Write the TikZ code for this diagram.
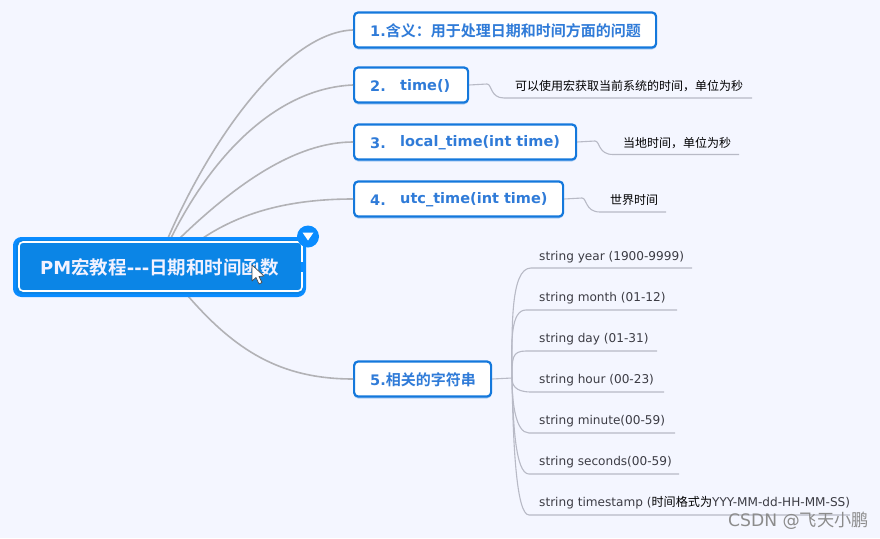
\documentclass[tikz,border=0pt]{standalone}
\usepackage{fontspec}
\setmainfont{DejaVu Sans}
\newfontfamily\cjk{Noto Sans CJK SC}
\newfontfamily\cjkb{Noto Sans CJK SC Bold}
\newfontfamily\latb{DejaVu Sans Bold}
\newfontfamily\lat{DejaVu Sans}
\usetikzlibrary{shadows,calc}
\definecolor{bgc}{HTML}{F4F6FF}
\definecolor{rootblue}{HTML}{0B85E6}
\definecolor{rootring}{HTML}{0A8CFF}
\definecolor{edgeblue}{HTML}{1478DC}
\definecolor{txtblue}{HTML}{2F7BD8}
\definecolor{brc}{HTML}{B2B2B6}
\definecolor{leafc}{HTML}{B8BAC6}
\definecolor{txtgrey}{HTML}{3C3C44}
\tikzset{
  topic/.style={draw=edgeblue,line width=2.2pt,fill=white,rounded corners=4pt,
    anchor=west,inner sep=0pt,minimum height=35pt,align=left,
    drop shadow={shadow xshift=0pt,shadow yshift=-2pt,opacity=.3,fill=edgeblue}},
  topiclabel/.style={anchor=west,inner sep=0,text=txtblue,font=\latb\fontsize{14.5}{16}\selectfont},
  mainline/.style={draw=brc,line width=1.6pt},
  subline/.style={draw=leafc,line width=1.1pt},
  leaf/.style={anchor=west,inner sep=0pt,text=black,font=\cjk\fontsize{12}{14}\selectfont},
  strleaf/.style={anchor=west,inner sep=0pt,text=txtgrey,font=\lat\fontsize{12.1}{14}\selectfont},
}
\begin{document}
\begin{tikzpicture}[x=1pt,y=-1pt]
\useasboundingbox (0,0) rectangle (880,538);
\fill[bgc] (0,0) rectangle (880,538);

% root anchors
\coordinate (r1) at (168,238);
\coordinate (r2) at (171,238);
\coordinate (r3) at (180,238);
\coordinate (r4) at (203,238);
\coordinate (r5) at (188,296);

% topic nodes
\node[topic,minimum width=302pt] (t1) at (353,30) {};
\node[topic,minimum width=114pt] (t2) at (353,85) {};
\node[topic,minimum width=222pt] (t3) at (353,142) {};
\node[topic,minimum width=209pt] (t4) at (353,199) {};
\node[topic,minimum width=137pt] (t5) at (353,379) {};
\node[topiclabel] (l1) at (370,30.5) {1.{\cjkb\fontsize{15}{16}\selectfont 含义：用于处理日期和时间方面的问题}};
\node[topiclabel] (l2n) at (370,86) {2.};
\node[topiclabel] (l2) at (400,86) {time()};
\node[topiclabel] (l3n) at (370,143) {3.};
\node[topiclabel] (l3) at (400,143) {local\_time(int time)};
\node[topiclabel] (l4n) at (370,200) {4.};
\node[topiclabel] (l4) at (400,200) {utc\_time(int time)};
\node[topiclabel] (l5) at (370,380) {5.{\cjkb\fontsize{15}{16}\selectfont 相关的字符串}};

% main branches
\draw[mainline] (r1) .. controls (215,130) and (290,32) .. (t1.west);
\draw[mainline] (r2) .. controls (215,150) and (280,88) .. (t2.west);
\draw[mainline] (r3) .. controls (235,185) and (295,142) .. (t3.west);
\draw[mainline] (r4) .. controls (245,210) and (295,199) .. (t4.west);
\draw[mainline] (r5) .. controls (235,350) and (280,379) .. (t5.west);

% root
\node[draw=rootring,line width=3pt,fill=rootblue,rounded corners=7pt,minimum width=290pt,minimum height=57pt,inner sep=0,anchor=center] (root) at (159.5,267) {};
\node[draw=white,line width=1.6pt,rounded corners=4pt,minimum width=283pt,minimum height=49pt,inner sep=0,anchor=center] (rootin) at (160.5,266.5) {};
\node[inner sep=0,anchor=center,text=white!95!blue,font=\latb\fontsize{18}{20}\selectfont] (rootl) at (159.5,267) {PM{\cjkb\fontsize{18.5}{20}\selectfont 宏教程}---{\cjkb\fontsize{18.5}{20}\selectfont 日期和时间函数}};
\node[circle,fill=rootring,minimum size=22pt,inner sep=0] (btn) at (308,236.5) {};
\fill[white] (302.5,232.5) -- (313.5,232.5) -- (308,240.5) -- cycle;
\fill[rootring] (300.5,262) rectangle (305,272);
% cursor
\draw[black!70,fill=white,line width=.7pt,line join=round] (252,265) -- (252,281) -- (256,277.5) -- (259,284) -- (262,282.5) -- (259,276.5) -- (264,276) -- cycle;

% leaf connectors
\coordinate (a2) at (487,84); \coordinate (u2a) at (504,98); \coordinate (u2b) at (752,98);
\coordinate (a3) at (595,141); \coordinate (u3a) at (613,154.5); \coordinate (u3b) at (739,154.5);
\coordinate (a4) at (582,198); \coordinate (u4a) at (600,212); \coordinate (u4b) at (666,212);
\draw[subline] (t2.east) -- (a2) .. controls (492,84) and (490,98) .. (u2a) -- (u2b);
\draw[subline] (t3.east) -- (a3) .. controls (600,141) and (598,154.5) .. (u3a) -- (u3b);
\draw[subline] (t4.east) -- (a4) .. controls (587,198) and (585,212) .. (u4a) -- (u4b);
\node[leaf] (n2) at (515,86) {可以使用宏获取当前系统的时间，单位为秒};
\node[leaf] (n3) at (623,143) {当地时间，单位为秒};
\node[leaf] (n4) at (610,200) {世界时间};

% string branches
\coordinate (hub) at (512,378);
\coordinate (s1a) at (531,268); \coordinate (s1b) at (692,268);
\coordinate (s2a) at (526,310); \coordinate (s2b) at (677,310);
\coordinate (s3a) at (526,351); \coordinate (s3b) at (657,351);
\coordinate (s4a) at (531,392); \coordinate (s4b) at (664,392);
\coordinate (s5a) at (529,433); \coordinate (s5b) at (675,433);
\coordinate (s6a) at (529,474); \coordinate (s6b) at (679,474);
\coordinate (s7a) at (529,515); \coordinate (s7b) at (850,515);
\draw[subline] (t5.east) -- (hub);
\draw[subline] (hub) .. controls (512,330) and (510,268) .. (s1a) -- (s1b);
\draw[subline] (hub) .. controls (511,340) and (511,310) .. (s2a) -- (s2b);
\draw[subline] (hub) .. controls (512,358) and (512,351) .. (s3a) -- (s3b);
\draw[subline] (hub) .. controls (512,384) and (514,392) .. (s4a) -- (s4b);
\draw[subline] (hub) .. controls (512,400) and (515,433) .. (s5a) -- (s5b);
\draw[subline] (hub) .. controls (513,420) and (515,474) .. (s6a) -- (s6b);
\draw[subline] (hub) .. controls (513,440) and (516,515) .. (s7a) -- (s7b);
\node[strleaf] (p1) at (539,257) {string year (1900-9999)};
\node[strleaf] (p2) at (539,298) {string month (01-12)};
\node[strleaf] (p3) at (539,339) {string day (01-31)};
\node[strleaf] (p4) at (539,380) {string hour (00-23)};
\node[strleaf] (p5) at (539,421) {string minute(00-59)};
\node[strleaf] (p6) at (539,462) {string seconds(00-59)};
\node[strleaf] (p7) at (539,503) {string timestamp ({\cjk\color{black}时间格式为}YYY-MM-dd-HH-MM-SS)};

% watermark
\node[anchor=west,inner sep=0,text=black!45,font=\lat\fontsize{17.2}{18}\selectfont] (wm) at (728,520.5) {CSDN @{\cjk 飞天小鹏}};
\end{tikzpicture}
\end{document}
